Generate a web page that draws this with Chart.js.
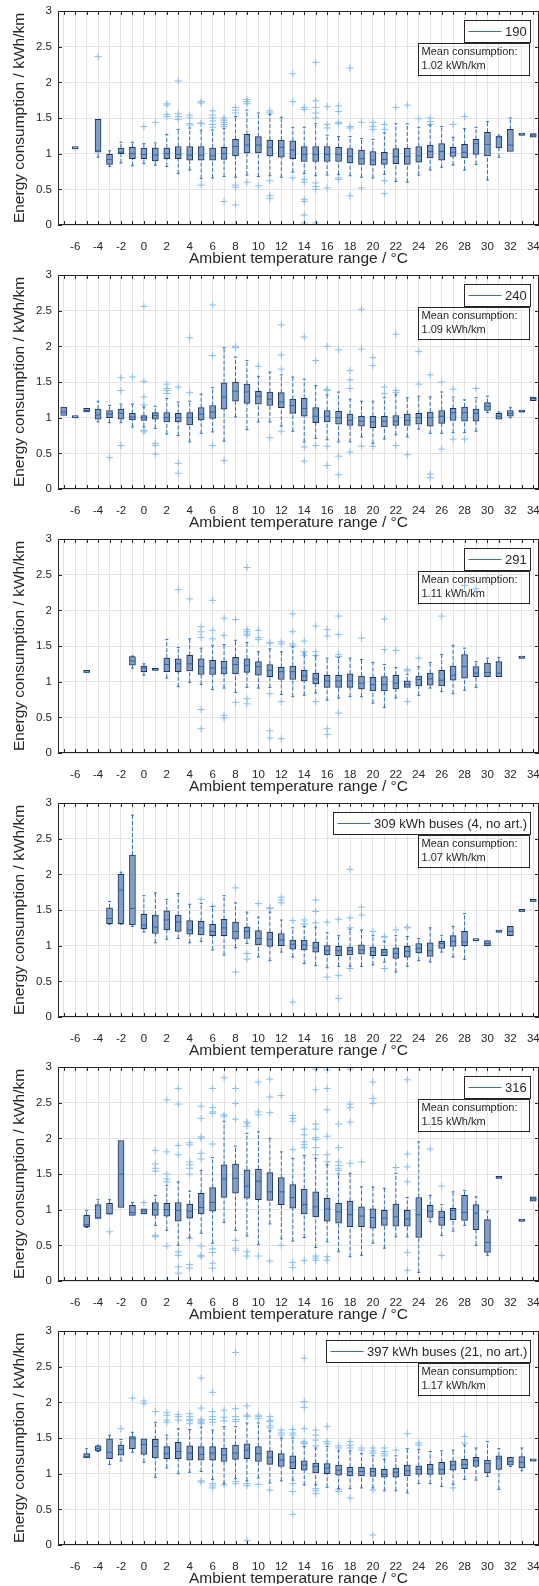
<!DOCTYPE html>
<html>
<head>
<meta charset="utf-8">
<script src="https://cdn.jsdelivr.net/npm/chart.js@4.4.0/dist/chart.umd.min.js"></script>
<style>
  body { margin: 0; background: #fff; }
  .panel { width: 539px; height: 264px; overflow: visible; }
  canvas { display: block; }
</style>
</head>
<body>
<div class="panel"><canvas id="c190" width="539" height="272"></canvas></div>
<div class="panel"><canvas id="c240" width="539" height="272"></canvas></div>
<div class="panel"><canvas id="c291" width="539" height="272"></canvas></div>
<div class="panel"><canvas id="c309" width="539" height="272"></canvas></div>
<div class="panel"><canvas id="c316" width="539" height="272"></canvas></div>
<div class="panel"><canvas id="c397" width="539" height="272"></canvas></div>
<script>
// axis ticks
const xTicks = [-7, -6, -5, -4, -3, -2, -1, 0, 1, 2, 3, 4, 5, 6, 7, 8, 9, 10, 11, 12, 13,
  14, 15, 16, 17, 18, 19, 20, 21, 22, 23, 24, 25, 26, 27, 28, 29, 30, 31, 32, 33, 34];
const yTicks = [0, 0.5, 1, 1.5, 2, 2.5, 3];

const busLabels = ['190', '240', '291', '309 kWh buses (4, no art.)', '316', '397 kWh buses (21, no art.)'];
const meanValues = ['1.02', '1.09', '1.11', '1.07', '1.15', '1.17'];

// box stats per temperature: [temp, whiskerLow, q1, median, q3, whiskerHigh]
const stats190 = [
  [-6, 1.07, 1.07, 1.07, 1.07, 1.07], [-4, 0.95, 1.02, 1.04, 1.48, 1.48],
  [-3, 0.82, 0.85, 0.92, 0.99, 1.04], [-2, 0.87, 1.00, 1.02, 1.08, 1.16],
  [-1, 0.83, 0.93, 1.00, 1.09, 1.16], [0, 0.86, 0.93, 0.99, 1.08, 1.14],
  [1, 0.84, 0.90, 0.98, 1.08, 1.15], [2, 0.82, 0.93, 1.00, 1.08, 1.27],
  [3, 0.72, 0.93, 0.99, 1.10, 1.34], [4, 0.77, 0.91, 0.98, 1.10, 1.36],
  [5, 0.65, 0.91, 0.98, 1.10, 1.33], [6, 0.66, 0.91, 0.97, 1.08, 1.33],
  [7, 0.68, 0.92, 1.00, 1.09, 1.35], [8, 0.67, 0.97, 1.10, 1.20, 1.52],
  [9, 0.70, 1.01, 1.12, 1.27, 1.61], [10, 0.68, 1.01, 1.12, 1.24, 1.57],
  [11, 0.69, 0.97, 1.09, 1.19, 1.55], [12, 0.67, 0.95, 1.09, 1.19, 1.51],
  [13, 0.74, 0.93, 1.05, 1.18, 1.37], [14, 0.72, 0.89, 0.99, 1.10, 1.37],
  [15, 0.69, 0.89, 0.99, 1.10, 1.42], [16, 0.70, 0.89, 0.99, 1.10, 1.26],
  [17, 0.71, 0.89, 0.99, 1.09, 1.24], [18, 0.69, 0.87, 0.96, 1.07, 1.24],
  [19, 0.67, 0.85, 0.93, 1.05, 1.21], [20, 0.66, 0.84, 0.91, 1.03, 1.20],
  [21, 0.71, 0.85, 0.92, 1.02, 1.29], [22, 0.61, 0.86, 0.96, 1.07, 1.42],
  [23, 0.60, 0.85, 0.96, 1.08, 1.42], [24, 0.70, 0.88, 0.97, 1.10, 1.37],
  [25, 0.77, 0.94, 1.03, 1.12, 1.40], [26, 0.81, 0.91, 1.03, 1.14, 1.38],
  [27, 0.84, 0.96, 1.02, 1.09, 1.23], [28, 0.77, 0.94, 1.02, 1.13, 1.35],
  [29, 0.85, 0.99, 1.14, 1.20, 1.37], [30, 0.63, 0.97, 1.13, 1.30, 1.45],
  [31, 0.95, 1.08, 1.24, 1.24, 1.26], [32, 1.03, 1.03, 1.12, 1.34, 1.50],
  [33, 1.26, 1.26, 1.26, 1.26, 1.26], [34, 1.23, 1.23, 1.26, 1.28, 1.28]
];
// outliers: [temp, value]
const out190 = [
  [-4, 2.36], [0, 1.38], [1, 1.44], [2, 1.70], [2, 1.68], [2, 1.55], [2, 1.52],
  [3, 2.02], [3, 1.56], [3, 1.52], [3, 1.48], [4, 1.54], [4, 1.50], [4, 1.42], [4, 1.40],
  [5, 1.73], [5, 1.71], [5, 1.43], [5, 1.42], [5, 0.56],
  [6, 1.60], [6, 1.54], [6, 1.50], [6, 1.46], [6, 1.41], [6, 1.37],
  [7, 1.50], [7, 1.47], [7, 1.44], [7, 1.41], [7, 1.38], [7, 0.33],
  [8, 1.65], [8, 1.61], [8, 1.57], [8, 0.56], [8, 0.53], [8, 0.28], [8, 0.01],
  [9, 1.76], [9, 1.73], [9, 1.70], [9, 0.60], [10, 0.55],
  [11, 1.60], [11, 1.57], [11, 0.62], [11, 0.41], [11, 0.37],
  [13, 2.12], [13, 1.73], [13, 0.66],
  [14, 1.65], [14, 1.62], [14, 0.64], [14, 0.60], [14, 0.36], [14, 0.33], [14, 0.14], [14, 0.03],
  [15, 2.28], [15, 1.74], [15, 1.65], [15, 1.57], [15, 1.50], [15, 0.59], [15, 0.54], [15, 0.50], [15, 0.03],
  [16, 1.66], [16, 1.41], [16, 1.36], [16, 0.52],
  [17, 1.67], [17, 1.59], [17, 1.44], [17, 1.42], [17, 0.66], [17, 0.64],
  [18, 2.20], [18, 1.38], [18, 1.36], [18, 0.41], [19, 1.44], [19, 0.52],
  [20, 1.44], [20, 1.38], [20, 1.34], [21, 1.41], [21, 1.34], [21, 0.62], [21, 0.44],
  [22, 1.65], [23, 1.68], [24, 1.49], [25, 1.50], [25, 1.45], [25, 1.41], [27, 1.41], [28, 1.52]
];

const stats240 = [
  [-7, 1.03, 1.03, 1.08, 1.15, 1.15], [-6, 1.00, 1.00, 1.00, 1.00, 1.00],
  [-5, 1.08, 1.08, 1.10, 1.13, 1.13], [-4, 0.94, 0.98, 1.04, 1.12, 1.23],
  [-3, 0.93, 1.00, 1.05, 1.10, 1.17], [-2, 0.93, 0.98, 1.06, 1.12, 1.19],
  [-1, 0.87, 0.97, 1.01, 1.06, 1.19], [0, 0.87, 0.96, 1.00, 1.03, 1.15],
  [1, 0.85, 0.98, 1.03, 1.07, 1.16], [2, 0.77, 0.94, 1.00, 1.07, 1.27],
  [3, 0.75, 0.94, 1.00, 1.06, 1.22], [4, 0.66, 0.90, 1.00, 1.07, 1.23],
  [5, 0.78, 0.97, 1.05, 1.14, 1.33], [6, 0.80, 0.99, 1.08, 1.17, 1.42],
  [7, 0.67, 1.12, 1.29, 1.49, 1.98], [8, 1.01, 1.23, 1.37, 1.50, 1.85],
  [9, 0.83, 1.20, 1.36, 1.47, 1.80], [10, 0.94, 1.19, 1.30, 1.37, 1.58],
  [11, 0.94, 1.17, 1.26, 1.36, 1.64], [12, 0.88, 1.14, 1.22, 1.35, 1.60],
  [13, 0.81, 1.06, 1.17, 1.26, 1.57], [14, 0.66, 1.02, 1.13, 1.27, 1.54],
  [15, 0.71, 0.93, 1.02, 1.14, 1.45], [16, 0.69, 0.94, 1.02, 1.10, 1.32],
  [17, 0.66, 0.91, 1.00, 1.09, 1.36], [18, 0.66, 0.89, 0.96, 1.05, 1.26],
  [19, 0.73, 0.88, 0.95, 1.02, 1.23], [20, 0.64, 0.86, 0.94, 1.02, 1.23],
  [21, 0.70, 0.87, 0.95, 1.02, 1.28], [22, 0.76, 0.89, 0.95, 1.03, 1.32],
  [23, 0.73, 0.89, 0.96, 1.05, 1.28], [24, 0.84, 0.91, 1.00, 1.06, 1.30],
  [25, 0.78, 0.88, 1.00, 1.08, 1.29], [26, 0.78, 0.92, 1.02, 1.10, 1.36],
  [27, 0.79, 0.96, 1.07, 1.13, 1.29], [28, 0.79, 0.95, 1.07, 1.15, 1.25],
  [29, 0.81, 0.95, 1.06, 1.12, 1.28], [30, 1.07, 1.10, 1.16, 1.21, 1.30],
  [31, 0.98, 0.98, 1.02, 1.06, 1.08], [32, 1.00, 1.02, 1.06, 1.10, 1.14],
  [33, 1.08, 1.08, 1.08, 1.08, 1.08], [34, 1.24, 1.24, 1.27, 1.29, 1.29]
];
const out240 = [
  [-3, 0.44], [-2, 1.56], [-2, 1.38], [-2, 0.61], [-1, 1.57],
  [0, 2.56], [0, 1.51], [0, 1.29], [0, 1.18], [0, 0.82], [0, 0.80],
  [1, 0.64], [1, 0.61], [1, 0.49], [2, 1.47], [2, 1.41], [2, 1.38], [2, 1.34],
  [3, 1.43], [3, 0.36], [3, 0.22], [4, 2.12], [4, 1.35], [6, 2.58], [6, 1.87], [6, 0.61],
  [7, 0.40], [8, 2.00], [8, 1.98], [10, 1.72], [11, 0.72],
  [12, 2.30], [12, 1.88], [12, 1.68], [12, 0.81], [14, 2.13], [14, 0.59], [14, 0.39],
  [15, 1.80], [15, 0.61], [16, 2.00], [16, 1.40], [16, 1.38], [16, 0.60], [16, 0.33],
  [17, 1.95], [17, 0.46], [17, 0.20], [18, 1.66], [18, 1.53], [18, 1.41], [18, 0.52],
  [19, 2.52], [19, 1.96], [19, 0.60], [20, 1.84], [20, 1.73], [20, 0.60],
  [21, 1.43], [21, 1.34], [22, 2.17], [22, 1.38], [22, 1.35], [22, 0.61], [23, 0.48],
  [24, 1.93], [24, 1.47], [25, 1.60], [25, 0.21], [25, 0.16], [26, 1.50], [26, 0.56],
  [27, 1.40], [27, 0.70], [28, 0.70], [29, 1.41]
];

const stats291 = [
  [-5, 1.13, 1.13, 1.13, 1.13, 1.13], [-1, 1.19, 1.23, 1.29, 1.35, 1.36],
  [0, 1.09, 1.14, 1.19, 1.22, 1.25], [1, 1.16, 1.16, 1.16, 1.16, 1.16],
  [2, 1.05, 1.14, 1.24, 1.33, 1.59], [3, 0.93, 1.14, 1.25, 1.32, 1.48],
  [4, 0.99, 1.15, 1.25, 1.37, 1.60], [5, 0.96, 1.10, 1.21, 1.32, 1.47],
  [6, 0.89, 1.10, 1.19, 1.30, 1.51], [7, 0.91, 1.11, 1.19, 1.29, 1.52],
  [8, 0.85, 1.11, 1.24, 1.34, 1.58], [9, 0.92, 1.13, 1.23, 1.32, 1.55],
  [10, 0.91, 1.09, 1.21, 1.28, 1.42], [11, 0.92, 1.07, 1.16, 1.24, 1.46],
  [12, 0.82, 1.03, 1.14, 1.20, 1.42], [13, 0.79, 1.03, 1.14, 1.22, 1.49],
  [14, 0.81, 1.01, 1.08, 1.16, 1.40], [15, 0.84, 0.97, 1.04, 1.12, 1.36],
  [16, 0.74, 0.92, 1.01, 1.09, 1.33], [17, 0.77, 0.92, 1.01, 1.09, 1.34],
  [18, 0.79, 0.92, 1.01, 1.11, 1.33], [19, 0.79, 0.90, 0.98, 1.08, 1.31],
  [20, 0.70, 0.87, 0.96, 1.06, 1.27], [21, 0.64, 0.87, 0.96, 1.07, 1.24],
  [22, 0.77, 0.90, 0.98, 1.09, 1.20], [23, 0.92, 0.92, 0.96, 1.01, 1.10],
  [24, 0.81, 0.94, 1.03, 1.08, 1.21], [25, 0.91, 0.95, 1.04, 1.12, 1.27],
  [26, 0.86, 0.94, 1.02, 1.16, 1.38], [27, 0.83, 1.02, 1.09, 1.22, 1.51],
  [28, 0.88, 1.05, 1.21, 1.38, 1.47], [29, 0.92, 1.07, 1.12, 1.21, 1.28],
  [30, 1.07, 1.07, 1.13, 1.26, 1.33], [31, 1.07, 1.07, 1.12, 1.28, 1.34],
  [33, 1.33, 1.33, 1.33, 1.33, 1.33]
];
const out291 = [
  [3, 2.29], [4, 2.16], [5, 1.77], [5, 1.70], [5, 1.62], [5, 0.61], [5, 0.34],
  [6, 2.14], [6, 1.72], [6, 1.60], [7, 1.89], [7, 1.65], [7, 0.53], [7, 0.49],
  [8, 1.87], [8, 0.71], [9, 2.60], [9, 1.73], [9, 1.70], [9, 1.67], [9, 1.65], [9, 0.76], [9, 0.69],
  [10, 1.72], [10, 1.62], [10, 1.59], [11, 1.55], [11, 1.54], [11, 0.83], [11, 0.31], [11, 0.21],
  [12, 1.56], [12, 1.53], [12, 0.72], [12, 0.20], [13, 1.95], [13, 1.70], [13, 1.53], [13, 1.50],
  [14, 1.57], [14, 1.42], [14, 1.37], [15, 1.78], [15, 1.42], [15, 1.37], [15, 0.72],
  [16, 1.73], [16, 1.64], [16, 0.34], [16, 0.26], [17, 1.92], [17, 1.66], [17, 1.38], [17, 1.35], [17, 0.56],
  [19, 1.61], [21, 1.88], [21, 1.45], [22, 1.44], [23, 1.17], [23, 1.15], [23, 0.72],
  [24, 1.33], [26, 1.92], [28, 2.35], [29, 2.30]
];

const stats309 = [
  [-3, 1.30, 1.31, 1.38, 1.53, 1.62], [-2, 1.30, 1.31, 1.78, 2.00, 2.03],
  [-1, 1.27, 1.29, 1.52, 2.27, 2.83], [0, 1.19, 1.24, 1.29, 1.44, 1.70],
  [1, 1.04, 1.17, 1.26, 1.43, 1.74], [2, 1.09, 1.22, 1.36, 1.49, 1.65],
  [3, 1.10, 1.20, 1.33, 1.43, 1.73], [4, 1.04, 1.16, 1.22, 1.35, 1.58],
  [5, 1.06, 1.15, 1.25, 1.34, 1.59], [6, 0.94, 1.14, 1.20, 1.30, 1.55],
  [7, 0.87, 1.14, 1.25, 1.37, 1.70], [8, 0.97, 1.09, 1.20, 1.33, 1.60],
  [9, 1.03, 1.10, 1.20, 1.26, 1.47], [10, 0.84, 1.01, 1.10, 1.21, 1.40],
  [11, 0.79, 0.99, 1.09, 1.19, 1.47], [12, 0.91, 1.00, 1.08, 1.17, 1.36],
  [13, 0.84, 0.95, 1.02, 1.08, 1.25], [14, 0.75, 0.94, 1.01, 1.08, 1.27],
  [15, 0.72, 0.91, 0.97, 1.05, 1.26], [16, 0.69, 0.87, 0.93, 1.00, 1.18],
  [17, 0.71, 0.86, 0.93, 0.99, 1.14], [18, 0.71, 0.87, 0.93, 0.98, 1.23],
  [19, 0.71, 0.88, 0.94, 1.01, 1.22], [20, 0.73, 0.86, 0.92, 0.98, 1.14],
  [21, 0.77, 0.86, 0.91, 0.95, 1.06], [22, 0.63, 0.82, 0.89, 0.97, 1.14],
  [23, 0.71, 0.84, 0.92, 0.99, 1.13], [24, 0.79, 0.90, 0.96, 1.03, 1.10],
  [25, 0.77, 0.85, 0.93, 1.04, 1.25], [26, 0.91, 0.96, 1.03, 1.06, 1.14],
  [27, 0.84, 0.99, 1.06, 1.14, 1.27], [28, 0.81, 1.00, 1.05, 1.20, 1.45],
  [29, 1.07, 1.07, 1.07, 1.07, 1.07], [30, 1.00, 1.00, 1.03, 1.07, 1.07],
  [31, 1.19, 1.19, 1.19, 1.19, 1.19], [32, 1.14, 1.14, 1.20, 1.27, 1.27],
  [33, 1.48, 1.48, 1.48, 1.48, 1.48], [34, 1.62, 1.62, 1.62, 1.62, 1.62]
];
const out309 = [
  [5, 1.65], [6, 1.55], [8, 1.81], [8, 0.63], [9, 0.89], [9, 0.81], [10, 1.59],
  [11, 1.53], [11, 1.52], [12, 1.68], [12, 1.64], [12, 1.60], [13, 1.35], [13, 0.21],
  [14, 1.36], [14, 1.30], [15, 1.64], [15, 1.48], [15, 1.32], [16, 1.33], [16, 0.56],
  [17, 1.37], [17, 0.58], [17, 0.26], [18, 2.07], [18, 1.39], [18, 1.25], [18, 0.68],
  [19, 1.54], [19, 1.43], [20, 1.20], [21, 1.13], [21, 1.12], [21, 0.68], [22, 1.22],
  [23, 1.26], [23, 1.25]
];

const stats316 = [
  [-5, 0.75, 0.76, 0.79, 0.92, 0.99], [-4, 0.88, 0.88, 0.88, 1.07, 1.14],
  [-3, 0.94, 0.94, 0.94, 1.09, 1.14], [-2, 1.03, 1.03, 1.50, 1.97, 1.97],
  [-1, 0.92, 0.92, 0.96, 1.06, 1.10], [0, 0.94, 0.94, 0.98, 1.01, 1.01],
  [1, 0.78, 0.92, 1.00, 1.10, 1.20], [2, 0.71, 0.91, 1.00, 1.09, 1.34],
  [3, 0.50, 0.84, 0.99, 1.10, 1.39], [4, 0.61, 0.88, 0.98, 1.08, 1.26],
  [5, 0.67, 0.94, 1.03, 1.23, 1.55], [6, 0.53, 0.98, 1.10, 1.31, 1.73],
  [7, 0.82, 1.17, 1.43, 1.63, 2.24], [8, 0.71, 1.23, 1.44, 1.64, 1.89],
  [9, 0.63, 1.16, 1.33, 1.56, 2.07], [10, 0.51, 1.14, 1.40, 1.57, 2.09],
  [11, 0.80, 1.13, 1.25, 1.52, 2.00], [12, 0.59, 1.07, 1.25, 1.45, 1.81],
  [13, 0.56, 1.02, 1.17, 1.35, 1.72], [14, 0.61, 0.94, 1.07, 1.29, 1.76],
  [15, 0.47, 0.90, 1.04, 1.25, 1.72], [16, 0.55, 0.84, 1.01, 1.16, 1.63],
  [17, 0.41, 0.81, 0.97, 1.09, 1.50], [18, 0.34, 0.76, 0.93, 1.12, 1.51],
  [19, 0.36, 0.76, 0.91, 1.04, 1.32], [20, 0.53, 0.74, 0.89, 1.01, 1.32],
  [21, 0.46, 0.78, 0.88, 0.99, 1.30], [22, 0.62, 0.77, 0.90, 1.08, 1.51],
  [23, 0.62, 0.77, 0.87, 0.99, 1.17], [24, 0.12, 0.61, 0.93, 1.17, 1.95],
  [25, 0.83, 0.89, 0.98, 1.06, 1.20], [26, 0.64, 0.78, 0.89, 0.98, 1.07],
  [27, 0.70, 0.86, 0.99, 1.02, 1.25], [28, 0.78, 0.85, 0.96, 1.20, 1.27],
  [29, 0.50, 0.72, 0.95, 1.07, 1.18], [30, 0.36, 0.40, 0.54, 0.86, 0.98],
  [31, 1.44, 1.44, 1.44, 1.44, 1.44], [33, 0.84, 0.84, 0.84, 0.84, 0.84],
  [34, 1.12, 1.12, 1.15, 1.18, 1.18]
];
const out316 = [
  [-3, 0.69], [0, 1.10], [1, 1.83], [1, 1.64], [1, 1.58], [1, 1.54], [1, 0.64], [1, 0.62],
  [2, 2.54], [2, 1.81], [2, 1.50], [2, 1.43], [2, 1.39], [2, 0.49], [2, 0.01],
  [3, 2.70], [3, 2.48], [3, 1.90], [3, 1.77], [3, 0.41], [3, 0.36], [3, 0.20], [3, 0.11],
  [4, 1.94], [4, 1.91], [4, 1.67], [4, 1.63], [4, 1.58], [4, 1.50], [4, 0.60], [4, 0.23], [4, 0.18],
  [5, 2.45], [5, 2.28], [5, 2.02], [5, 2.00], [5, 1.79], [5, 1.71], [5, 0.49], [5, 0.36], [5, 0.34],
  [6, 2.70], [6, 2.43], [6, 2.37], [6, 2.35], [6, 1.92], [6, 0.45], [6, 0.40], [6, 0.25], [6, 0.18],
  [7, 2.85], [7, 2.33], [7, 2.31], [8, 2.70], [8, 2.49], [8, 2.27], [8, 0.57], [8, 0.46], [8, 0.43],
  [9, 2.23], [9, 2.21], [9, 2.17], [9, 0.41], [9, 0.35], [10, 2.79], [10, 2.37], [10, 2.33], [10, 0.35],
  [11, 2.83], [11, 2.58], [11, 2.36], [11, 0.28], [12, 2.60], [12, 0.50],
  [13, 2.32], [13, 2.28], [13, 2.24], [13, 1.84], [13, 0.26], [13, 0.19],
  [14, 2.13], [14, 2.05], [14, 1.95], [14, 1.91], [14, 1.87], [14, 0.29],
  [15, 2.97], [15, 2.68], [15, 2.20], [15, 2.13], [15, 2.01], [15, 1.98], [15, 1.87], [15, 1.77],
  [15, 0.35], [15, 0.32], [15, 0.29], [15, 0.01],
  [16, 2.96], [16, 2.70], [16, 2.40], [16, 2.03], [16, 1.77], [16, 1.67], [16, 0.34], [16, 0.29],
  [17, 2.20], [17, 1.87], [17, 1.67], [17, 1.62], [17, 1.58], [17, 1.55],
  [18, 2.97], [18, 2.48], [18, 2.43], [18, 2.23], [18, 1.65], [19, 1.67],
  [20, 2.79], [20, 2.56], [20, 2.49], [22, 1.59],
  [23, 2.82], [23, 1.78], [23, 1.60], [23, 1.39], [23, 0.40], [23, 0.15],
  [25, 1.85], [26, 1.33], [26, 0.36]
];

const stats397 = [
  [-5, 1.22, 1.22, 1.24, 1.28, 1.35], [-4, 1.31, 1.32, 1.35, 1.39, 1.40],
  [-3, 1.13, 1.21, 1.30, 1.49, 1.54], [-2, 1.18, 1.26, 1.34, 1.40, 1.48],
  [-1, 1.30, 1.35, 1.49, 1.52, 1.58], [0, 1.16, 1.27, 1.41, 1.49, 1.49],
  [1, 0.95, 1.22, 1.38, 1.48, 1.72], [2, 1.08, 1.21, 1.28, 1.38, 1.54],
  [3, 1.00, 1.21, 1.31, 1.44, 1.63], [4, 1.02, 1.19, 1.29, 1.39, 1.62],
  [5, 1.03, 1.19, 1.27, 1.38, 1.65], [6, 0.92, 1.19, 1.29, 1.38, 1.61],
  [7, 0.86, 1.17, 1.26, 1.36, 1.66], [8, 0.93, 1.20, 1.29, 1.40, 1.66],
  [9, 0.90, 1.21, 1.33, 1.42, 1.71], [10, 0.94, 1.17, 1.28, 1.38, 1.71],
  [11, 0.87, 1.13, 1.23, 1.32, 1.60], [12, 0.90, 1.10, 1.19, 1.28, 1.50],
  [13, 0.91, 1.07, 1.16, 1.25, 1.50], [14, 0.84, 1.05, 1.12, 1.18, 1.38],
  [15, 0.84, 1.01, 1.10, 1.15, 1.36], [16, 0.81, 1.00, 1.08, 1.14, 1.38],
  [17, 0.79, 0.98, 1.05, 1.12, 1.32], [18, 0.79, 0.97, 1.03, 1.09, 1.32],
  [19, 0.80, 0.97, 1.03, 1.09, 1.28], [20, 0.80, 0.96, 1.03, 1.08, 1.25],
  [21, 0.76, 0.95, 0.99, 1.06, 1.20], [22, 0.76, 0.95, 1.02, 1.08, 1.25],
  [23, 0.73, 0.97, 1.04, 1.12, 1.35], [24, 0.86, 0.99, 1.06, 1.11, 1.34],
  [25, 0.86, 0.99, 1.06, 1.13, 1.31], [26, 0.82, 0.99, 1.06, 1.16, 1.32],
  [27, 0.85, 1.05, 1.12, 1.18, 1.33], [28, 0.92, 1.07, 1.13, 1.20, 1.40],
  [29, 0.91, 1.10, 1.18, 1.23, 1.36], [30, 0.96, 1.01, 1.14, 1.19, 1.45],
  [31, 0.78, 1.06, 1.21, 1.25, 1.35], [32, 1.10, 1.12, 1.17, 1.23, 1.23],
  [33, 1.04, 1.08, 1.16, 1.24, 1.36], [34, 1.18, 1.18, 1.18, 1.18, 1.18]
];
const out397 = [
  [-2, 1.63], [-1, 2.06], [0, 2.02], [0, 1.98], [1, 1.87],
  [2, 1.86], [2, 1.82], [2, 1.75], [2, 1.72], [3, 1.83], [3, 1.80], [3, 1.75],
  [4, 1.84], [4, 1.80], [4, 1.76], [4, 1.74], [4, 1.70],
  [5, 2.34], [5, 1.92], [5, 1.76], [5, 1.74], [5, 1.72], [5, 1.70], [5, 0.90], [5, 0.88],
  [6, 2.14], [6, 1.87], [6, 1.80], [6, 1.76], [6, 1.72], [6, 0.86], [6, 0.83], [6, 0.80],
  [7, 1.89], [7, 1.79], [7, 1.74], [7, 0.84],
  [8, 2.70], [8, 1.91], [8, 1.80], [8, 1.76], [8, 1.73], [8, 0.89], [8, 0.86],
  [9, 1.95], [9, 1.82], [9, 1.80], [9, 0.86], [9, 0.83], [9, 0.06],
  [10, 1.82], [10, 1.80], [10, 1.77], [10, 0.85],
  [11, 1.80], [11, 1.75], [11, 1.73], [11, 1.67], [11, 1.64], [11, 0.77],
  [12, 1.61], [12, 1.57], [12, 1.54], [13, 1.62], [13, 1.57], [13, 1.54], [13, 0.86], [13, 0.75], [13, 0.43],
  [14, 2.62], [14, 2.01], [14, 1.93], [14, 1.63], [14, 1.45], [14, 1.43], [14, 1.42],
  [15, 1.61], [15, 1.54], [15, 1.47], [15, 1.39], [15, 0.79], [15, 0.76], [15, 0.72],
  [16, 1.66], [16, 1.45], [16, 1.42], [17, 1.39], [17, 1.36], [17, 0.78], [17, 0.75],
  [18, 1.45], [18, 1.40], [18, 1.36], [18, 0.66], [19, 1.36], [19, 1.33],
  [20, 1.36], [20, 1.32], [20, 1.29], [20, 0.77], [20, 0.14],
  [21, 1.36], [21, 1.31], [21, 1.28], [21, 1.25], [22, 1.33], [23, 1.56],
  [24, 1.43], [24, 1.40], [27, 0.80], [28, 1.52], [28, 1.43]
];

const textColor = '#262626';
const boxFill = '#7f9fca';
const boxEdge = '#1b355a';
const whiskerColor = '#2f6fbf';
const medianColor = '#2a64ad';
const outlierColor = '#86bcef';
const gridColor = '#e3e3e3';
const fontFamily = '"Liberation Sans", Arial, sans-serif';

// axes frame, inward ticks, legend and mean text box
const frameAndNotes = {
  id: 'frameAndNotes',
  afterDraw(chart, args, opts) {
    const {ctx, chartArea: a, scales: {x, y}} = chart;
    ctx.save();
    ctx.strokeStyle = textColor;
    ctx.lineWidth = 1;
    ctx.strokeRect(a.left + 0.5, a.top + 0.5, a.right - a.left - 1, a.bottom - a.top - 1);
    ctx.beginPath();
    x.ticks.forEach(t => {
      const px = Math.round(x.getPixelForValue(t.value)) + 0.5;
      ctx.moveTo(px, a.bottom); ctx.lineTo(px, a.bottom - 4);
      ctx.moveTo(px, a.top); ctx.lineTo(px, a.top + 4);
    });
    y.ticks.forEach(t => {
      const py = Math.round(y.getPixelForValue(t.value)) + 0.5;
      ctx.moveTo(a.left, py); ctx.lineTo(a.left + 4, py);
      ctx.moveTo(a.right, py); ctx.lineTo(a.right - 4, py);
    });
    ctx.stroke();

    // legend
    ctx.font = '13px ' + fontFamily;
    const tw = ctx.measureText(opts.label).width;
    const lw = Math.round(4 + 33 + 3.5 + tw + 3.5);
    const lx = Math.round(a.right - 9 - lw) + 0.5;
    const ly = Math.round(a.top + 9) + 0.5;
    ctx.fillStyle = '#fff';
    ctx.fillRect(lx, ly, lw, 22);
    ctx.strokeRect(lx, ly, lw, 22);
    ctx.strokeStyle = whiskerColor;
    ctx.beginPath();
    ctx.moveTo(lx + 4, ly + 11); ctx.lineTo(lx + 37, ly + 11);
    ctx.stroke();
    ctx.fillStyle = textColor;
    ctx.textBaseline = 'middle';
    ctx.fillText(opts.label, lx + 40.5, ly + 11.5);

    // mean consumption box
    const mx = Math.round(a.right - 121) + 0.5;
    const my = Math.round(a.top + 32) + 0.5;
    ctx.strokeStyle = textColor;
    ctx.strokeRect(mx, my, 111, 32);
    ctx.font = '11px ' + fontFamily;
    ctx.fillText('Mean consumption:', mx + 3, my + 8.5);
    ctx.fillText(opts.mean + ' kWh/km', mx + 3, my + 22.5);
    ctx.restore();
  }
};

function makePanel(id, stats, outliers, label, mean) {
  const boxes = stats.map(s => ({x: s[0], y: [s[2], s[4]]}));
  const medians = stats.map(s => ({x: s[0], y: s[3]}));
  const whiskers = [];
  const caps = [];
  stats.forEach(s => {
    whiskers.push({x: s[0], y: s[1]}, {x: s[0], y: s[2]}, {x: s[0], y: null});
    whiskers.push({x: s[0], y: s[4]}, {x: s[0], y: s[5]}, {x: s[0], y: null});
    if (s[1] < s[2]) caps.push({x: s[0], y: s[1]});
    if (s[5] > s[4]) caps.push({x: s[0], y: s[5]});
  });
  const outPts = outliers.map(o => ({x: o[0], y: o[1]}));

  new Chart(document.getElementById(id), {
    type: 'bar',
    data: {
      datasets: [
        {
          type: 'scatter', data: medians, pointStyle: 'line', pointRadius: 3,
          pointBorderColor: medianColor, pointBorderWidth: 1, showLine: false
        },
        {
          type: 'bar', data: boxes, backgroundColor: boxFill, borderColor: boxEdge,
          borderWidth: 1, borderSkipped: false, barThickness: 6, minBarLength: 2
        },
        {
          type: 'scatter', data: caps, pointStyle: 'line', pointRadius: 1.5,
          pointBorderColor: whiskerColor, pointBorderWidth: 1, showLine: false
        },
        {
          type: 'line', data: whiskers, borderColor: whiskerColor, borderWidth: 1,
          borderDash: [4, 2], pointRadius: 0, spanGaps: false, tension: 0
        },
        {
          type: 'scatter', data: outPts, pointStyle: 'cross', pointRadius: 3.5,
          pointBorderColor: outlierColor, pointBorderWidth: 1, showLine: false
        }
      ]
    },
    options: {
      responsive: false,
      animation: false,
      devicePixelRatio: 1,
      layout: {autoPadding: false, padding: {top: 11, left: 0, right: 0, bottom: 0}},
      plugins: {
        legend: {display: false},
        tooltip: {enabled: false},
        frameAndNotes: {label: label, mean: mean}
      },
      scales: {
        x: {
          type: 'linear', min: -7.5, max: 34.5, offset: false,
          grid: {color: gridColor, drawTicks: false, offset: false},
          border: {display: false},
          afterBuildTicks: s => { s.ticks = xTicks.map(v => ({value: v})); },
          afterFit: s => { s.height = 47; s.paddingLeft = 0; s.paddingRight = 0; },
          ticks: {
            autoSkip: false, maxRotation: 0, padding: 14.5, color: textColor,
            font: {family: fontFamily, size: 11.5},
            callback: v => (v % 2 === 0 ? String(v) : '')
          },
          title: {
            display: true, text: 'Ambient temperature range / °C', color: textColor,
            font: {family: fontFamily, size: 15.5}, padding: {top: 0, bottom: 3.7}
          }
        },
        y: {
          min: 0, max: 3,
          grid: {color: gridColor, drawTicks: false},
          border: {display: false},
          afterBuildTicks: s => { s.ticks = yTicks.map(v => ({value: v})); },
          afterFit: s => { s.width = 58; s.paddingTop = 0; s.paddingBottom = 0; },
          ticks: {
            padding: 6, color: textColor,
            font: {family: fontFamily, size: 11.5},
            callback: v => String(v)
          },
          title: {
            display: true, text: 'Energy consumption / kWh/km', color: textColor,
            font: {family: fontFamily, size: 15.5}, padding: {top: 10.7, bottom: 0}
          }
        }
      }
    },
    plugins: [frameAndNotes]
  });
}

makePanel('c190', stats190, out190, busLabels[0], meanValues[0]);
makePanel('c240', stats240, out240, busLabels[1], meanValues[1]);
makePanel('c291', stats291, out291, busLabels[2], meanValues[2]);
makePanel('c309', stats309, out309, busLabels[3], meanValues[3]);
makePanel('c316', stats316, out316, busLabels[4], meanValues[4]);
makePanel('c397', stats397, out397, busLabels[5], meanValues[5]);
</script>
</body>
</html>
